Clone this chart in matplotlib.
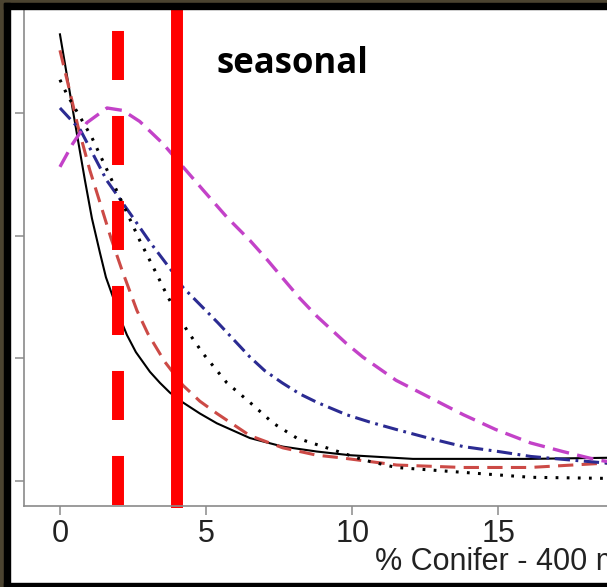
import matplotlib
matplotlib.use("Agg")
import matplotlib.pyplot as plt
from matplotlib.patches import Rectangle

plt.rcParams['lines.scale_dashes'] = False
plt.rcParams['font.family'] = ['Liberation Sans', 'DejaVu Sans']

# fitted response curves, x = % conifer within 400 m
x_solid = [0, 0.342, 0.615, 0.855, 1.094, 1.368, 1.573, 1.812, 2.051, 2.291, 2.598, 3.077,
           3.419, 3.761, 4.205, 4.786, 5.368, 6.496, 7.624, 8.786, 9.915, 12.07, 16.07, 19]
y_solid = [0.364, 0.316, 0.278, 0.245, 0.214, 0.186, 0.166, 0.150, 0.133, 0.119, 0.105, 0.089,
           0.080, 0.072, 0.064, 0.055, 0.047, 0.035, 0.028, 0.024, 0.021, 0.018, 0.018, 0.019]

x_red = [0, 0.342, 0.615, 1.026, 1.368, 1.744, 2.12, 2.632, 3.009, 3.59, 4.205, 4.786, 5.368,
         6.496, 7.624, 8.786, 9.573, 11.52, 13.78, 16.07, 19]
y_red = [0.351, 0.317, 0.289, 0.253, 0.227, 0.198, 0.172, 0.139, 0.120, 0.097, 0.078, 0.065,
         0.055, 0.037, 0.027, 0.021, 0.019, 0.013, 0.011, 0.011, 0.015]

x_blue = [0, 0.7, 1.6, 2.4, 3.1, 3.8, 4.2, 5.4, 6.5, 7.0, 7.6, 8.2, 8.8, 9.8, 10.6, 11.5,
          12.6, 13.8, 15.0, 16.1, 17.5, 19]
y_blue = [0.304, 0.286, 0.245, 0.218, 0.194, 0.172, 0.158, 0.129, 0.101, 0.090, 0.080, 0.071,
          0.064, 0.054, 0.048, 0.042, 0.035, 0.028, 0.024, 0.020, 0.017, 0.014]

x_dot = [0, 0.24, 0.68, 1.09, 1.64, 2.05, 2.73, 3.28, 3.69, 4.34, 4.89, 5.71, 6.5, 7.3, 8.1,
         9.0, 9.64, 10.4, 11.5, 13.8, 16.1, 19]
y_dot = [0.327, 0.315, 0.297, 0.280, 0.252, 0.231, 0.196, 0.170, 0.150, 0.123, 0.104, 0.080,
         0.064, 0.047, 0.035, 0.028, 0.023, 0.017, 0.011, 0.007, 0.003, 0.002]

x_mag = [0, 0.44, 0.92, 1.61, 2.15, 2.73, 3.52, 4.1, 4.9, 5.71, 6.5, 7.1, 7.63, 8.2, 8.8,
         9.8, 10.36, 11.5, 12.65, 13.8, 14.9, 16.1, 17.2, 18.4, 19]
y_mag = [0.256, 0.275, 0.292, 0.304, 0.302, 0.293, 0.275, 0.259, 0.237, 0.215, 0.196, 0.180,
         0.165, 0.149, 0.134, 0.112, 0.101, 0.082, 0.068, 0.054, 0.042, 0.031, 0.024, 0.017,
         0.015]

# threshold markers
x_thresh_dashed = 2
x_thresh_solid = 4
dashed_span = [-0.0196, 0.3676]

xticks = [0, 5, 10, 15, 20, 25, 30]
yticks = [0.0, 0.1, 0.2, 0.3]

fig = plt.figure(figsize=(6.07, 5.87), dpi=100)
ax = fig.add_axes([24 / 607, 81 / 587, 948 / 607, 506 / 587])

ax.plot(x_solid, y_solid, color='black', lw=1.5)
ax.plot(x_red, y_red, color='#cc4a46', lw=2.2, linestyle=(0, (11, 6)))
ax.plot(x_blue, y_blue, color='#2b2b92', lw=2.2, linestyle=(0, (11, 4, 2, 4)))
ax.plot(x_dot, y_dot, color='black', lw=2.2, linestyle=(0, (2, 6)))
ax.plot(x_mag, y_mag, color='#c342c8', lw=2.4, linestyle=(0, (12, 6)))

ax.plot([x_thresh_dashed] * 2, dashed_span, color='red', lw=8.6,
        linestyle=(0, (35.3, 25.9)), dash_capstyle='butt')
ax.plot([x_thresh_solid] * 2, [-0.022, 0.45], color='red', lw=8.6,
        solid_capstyle='butt', clip_on=False)

ax.set_xlim(-1.23, 31.2)
ax.set_ylim(-0.0204, 0.392)
ax.set_xticks(xticks)
ax.set_yticks(yticks)
ax.tick_params(axis='both', direction='out', length=6.5, width=1.1, color='#8a8a8a',
               labelsize=22, labelcolor='#222222', pad=3)
ax.tick_params(axis='y', labelleft=False)
for side in ['top', 'right']:
    ax.spines[side].set_visible(False)
for side in ['left', 'bottom']:
    ax.spines[side].set_color('#8a8a8a')
    ax.spines[side].set_linewidth(1.2)

ax.set_xlabel('% Conifer - 400 m', fontsize=22, color='#222222')
ax.xaxis.set_label_coords(0.5, -0.081)

fig.text(217 / 607, 1 - 73 / 587, 'seasonal', family=['Open Sans', 'DejaVu Sans'],
         fontweight='bold', fontsize=25, va='baseline', ha='left', color='black')

# dark frame around the panel
olive = '#4b4330'
fig.add_artist(Rectangle((0, 1 - 3 / 587), 1, 3 / 587, transform=fig.transFigure,
                         color=olive, zorder=10))
fig.add_artist(Rectangle((0, 0), 4 / 607, 1, transform=fig.transFigure,
                         color=olive, zorder=10))
fig.add_artist(Rectangle((4 / 607, 1 - 9 / 587), 1, 6 / 587, transform=fig.transFigure,
                         color='black', zorder=10))
fig.add_artist(Rectangle((4 / 607, 0), 6 / 607, 1 - 3 / 587, transform=fig.transFigure,
                         color='black', zorder=10))
fig.add_artist(Rectangle((4 / 607, 0), 1, 4 / 587, transform=fig.transFigure,
                         color='black', zorder=10))

fig.savefig('out.png', dpi=100)
